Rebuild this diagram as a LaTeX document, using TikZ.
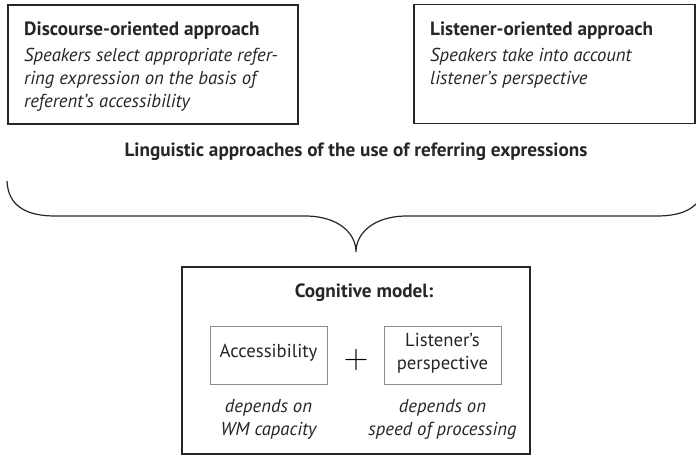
\documentclass[tikz,border=0pt]{standalone}
\usepackage{fontspec}
\setmainfont{PT Sans}
\newfontfamily\plusfont{Latin Modern Roman}
\begin{document}
\begin{tikzpicture}[x=1pt,y=-1pt,
  bigbox/.style={draw=black!85, line width=1.3pt, inner sep=0pt},
  smallbox/.style={draw=black!45, line width=0.8pt, inner sep=0pt},
  ttl/.style={font=\fontsize{19.2}{23}\selectfont\bfseries, inner sep=0pt, text=black!85},
  body/.style={font=\fontsize{18.7}{23}\selectfont\itshape, inner sep=0pt, align=left, text=black!85},
  reg/.style={font=\fontsize{18.7}{23}\selectfont, inner sep=0pt, align=center, text=black!85},
  brace/.style={draw=black!85, line width=1.2pt}]
\clip (0,0) rectangle (696,457);
\fill[white] (0,0) rectangle (696,457);
% top left box
\node[bigbox, minimum width=290pt, minimum height=119pt] (dbox) at (153,64.5) {};
\node[ttl, anchor=base west] (dttl) at (24,36) {Discourse-oriented approach};
\node[body, anchor=base west] (dbody) at (24,108) {Speakers select appropriate refer-\\ring expression on the basis of\\referent’s accessibility};
% top right box
\node[bigbox, minimum width=281pt, minimum height=119pt] (lbox) at (554.5,64) {};
\node[ttl, anchor=base west] (lttl) at (430,36) {Listener-oriented approach};
\node[body, anchor=base west] (lbody) at (430,85) {Speakers take into account\\listener’s perspective};
% heading
\node[ttl, anchor=base] (head) at (356,157) {Linguistic approaches of the use of referring expressions};
% brace
\coordinate (bl) at (7,181);
\coordinate (tip) at (356,252);
\coordinate (br) at (705,181);
\draw[brace] (bl) .. controls (8,205) and (25,216) .. (55,216) -- (305,216)
  .. controls (338,216) and (356,233) .. (tip)
  .. controls (356,233) and (374,216) .. (407,216) -- (657,216)
  .. controls (687,216) and (704,205) .. (br);
% bottom box
\node[bigbox, line width=1.6pt, minimum width=348pt, minimum height=187pt] (cbox) at (356,360.5) {};
\node[ttl, anchor=base] (cttl) at (364,297) {Cognitive model:};
\node[smallbox, minimum width=117pt, minimum height=58pt] (abox) at (268.5,355) {};
\node[reg, anchor=base] (atxt) at (268.5,357) {Accessibility};
\node[smallbox, minimum width=117pt, minimum height=58pt] (pbox) at (442.5,355) {};
\node[reg, anchor=base] (ptxt) at (442.5,346) {Listener’s};
\node[reg, anchor=base] (ptxt2) at (442.5,369) {perspective};
\node[font=\plusfont\fontsize{34}{34}\selectfont, inner sep=0pt, text=black] (plus) at (356,360) {+};
\node[body, align=center, anchor=base] (adep) at (268.5,435) {depends on\\WM capacity};
\node[body, align=center, anchor=base] (pdep) at (442.5,435) {depends on\\speed of processing};
\end{tikzpicture}
\end{document}
